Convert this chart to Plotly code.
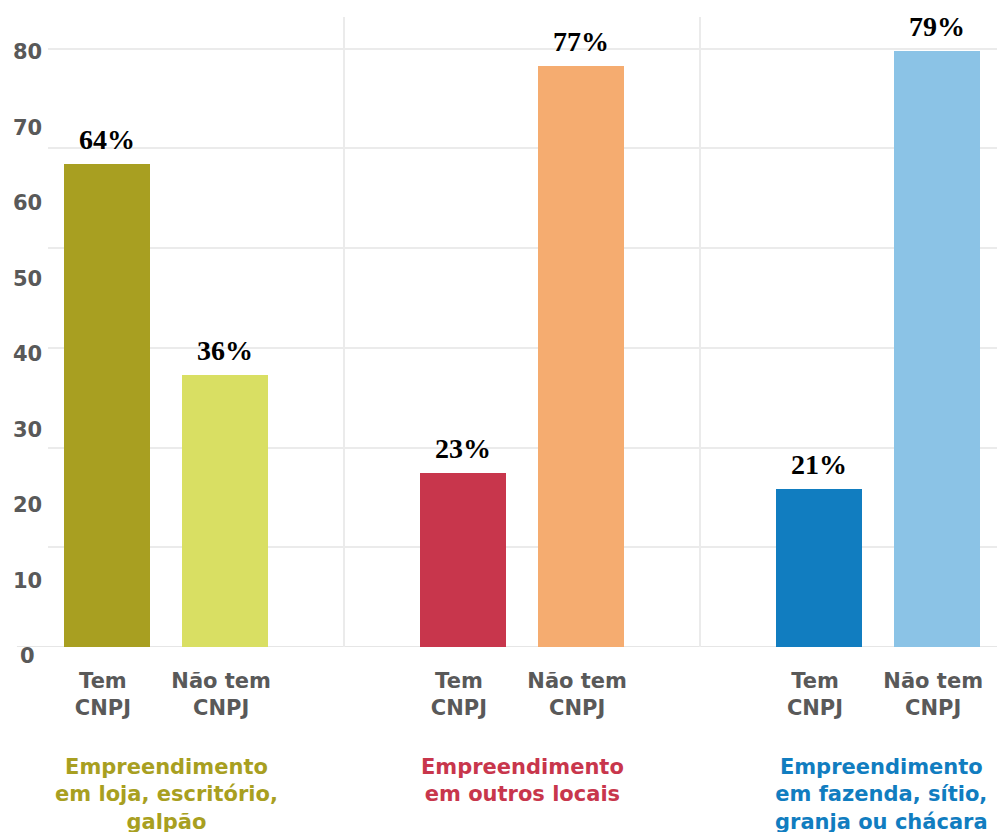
import plotly.graph_objects as go

# Data: share of businesses with / without CNPJ by type of location (%)
groups = [
    "Empreendimento<br>em loja, escritório,<br>galpão",
    "Empreendimento<br>em outros locais",
    "Empreendimento<br>em fazenda, sítio,<br>granja ou chácara",
]
bar_labels = ["Tem<br>CNPJ", "Não tem<br>CNPJ"]
tem_cnpj = [64, 23, 21]
nao_tem_cnpj = [36, 77, 79]
y_ticks = [0, 10, 20, 30, 40, 50, 60, 70, 80]

group_colors = ["#A89F21", "#C8364C", "#117DC0"]
dark_colors = ["#A89F21", "#C8364C", "#117DC0"]
light_colors = ["#D9DF63", "#F5AC70", "#8BC3E6"]

OFFSET = 0.166
BAR_W = 0.2416
Y_MAX = 83.5
GRID_STEP = 13.22

SANS = "DejaVu Sans"
label_font = dict(family=SANS, size=21, color="#595959", weight=700)
value_font = dict(family="Liberation Serif", size=28, color="#000000", weight=700)

fig = go.Figure()

tickvals, ticktext = [], []
annotations = []
for g, (tem, nao) in enumerate(zip(tem_cnpj, nao_tem_cnpj)):
    xs = [g - OFFSET, g + OFFSET]
    ys = [tem, nao]
    fig.add_trace(go.Bar(
        x=xs, y=ys, width=BAR_W,
        marker=dict(color=[dark_colors[g], light_colors[g]], line=dict(width=0)),
        hoverinfo="skip", showlegend=False,
    ))
    tickvals += xs
    ticktext += bar_labels
    for x, v in zip(xs, ys):
        annotations.append(dict(
            x=x, y=v, xref="x", yref="y", text=f"{v}%", showarrow=False,
            yanchor="bottom", yshift=7, font=value_font,
        ))
    annotations.append(dict(
        x=g, y=-0.168, xref="x", yref="paper", text=groups[g], showarrow=False,
        yanchor="top", align="center", xshift=3 if g == 2 else 0,
        font=dict(family=SANS, size=21, color=group_colors[g], weight=700),
    ))

# y-axis value labels, centred in the left margin
for v in y_ticks:
    annotations.append(dict(
        x=-0.022, y=v, xref="paper", yref="y", text=str(v), showarrow=False,
        xanchor="center", yanchor="middle", yshift=-9, font=label_font,
    ))

grid_vals = [GRID_STEP * k for k in range(1, 7)]

fig.update_layout(
    width=997, height=832,
    margin=dict(l=48, r=0, t=17, b=185),
    paper_bgcolor="white", plot_bgcolor="white",
    bargap=0,
    xaxis=dict(
        range=[-0.3315, 2.334],
        tickvals=tickvals, ticktext=ticktext,
        tickfont=label_font, ticks="", ticklabelstandoff=19, ticklabelshift=-4,
        showgrid=False, zeroline=False, showline=False,
        minor=dict(tickvals=[0.5, 1.5], showgrid=True,
                   gridcolor="#EBEBEB", gridwidth=1.5, ticks=""),
    ),
    yaxis=dict(
        range=[0, Y_MAX], showticklabels=False, ticks="",
        showgrid=False, zeroline=False, showline=False,
        minor=dict(tickvals=grid_vals, showgrid=True,
                   gridcolor="#EBEBEB", gridwidth=1.5, ticks=""),
    ),
    annotations=annotations,
    shapes=[dict(
        type="line", xref="paper", yref="y", x0=-0.0327, x1=1, y0=0, y1=0,
        line=dict(color="#E6E6E6", width=2), layer="below",
    )],
)

fig.write_html("out.html")
